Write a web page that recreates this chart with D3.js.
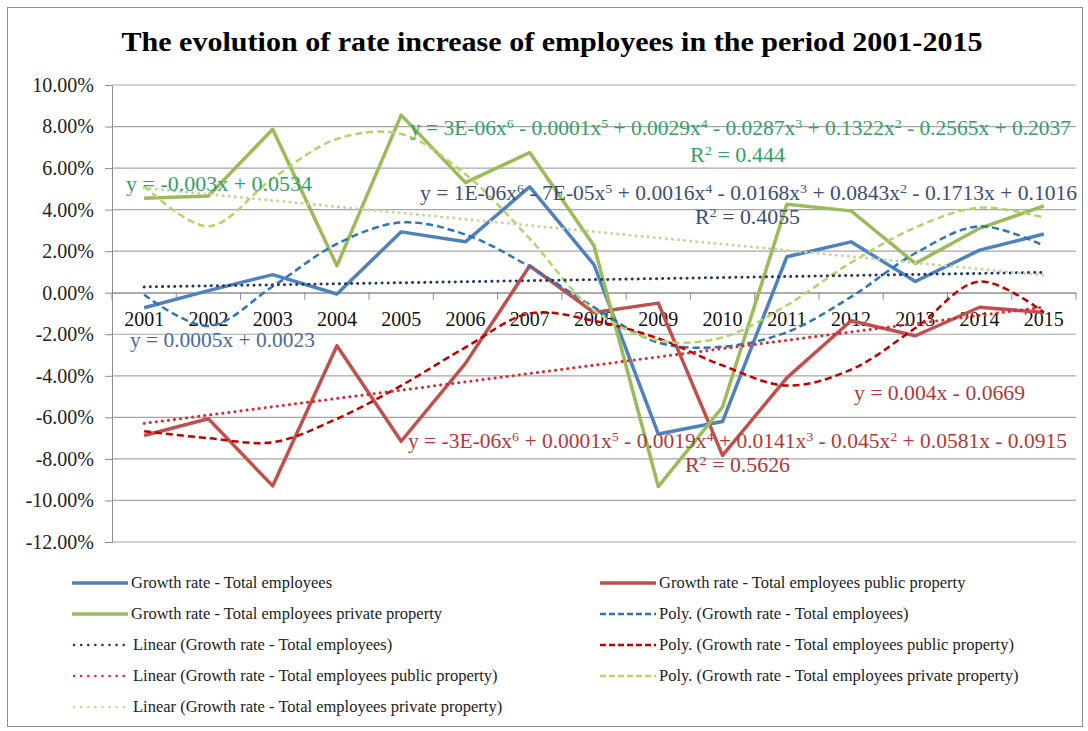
<!DOCTYPE html>
<html>
<head>
<meta charset="utf-8">
<script src="https://cdn.jsdelivr.net/npm/d3@7"></script>
<style>
  body { margin: 0; background: #fff; }
  text { font-family: "Liberation Serif", "Times New Roman", serif; }
</style>
</head>
<body>
<svg id="chart" width="1088" height="731"></svg>
<script>
// data (values in %)
const years = ["2001", "2002", "2003", "2004", "2005", "2006", "2007", "2008", "2009", "2010", "2011", "2012", "2013", "2014", "2015"];
const total = [-0.72, 0.1, 0.87, -0.06, 2.93, 2.45, 5.1, 1.35, -6.8, -6.2, 1.73, 2.45, 0.54, 2.05, 2.83];
const publicProp = [-6.87, -6.07, -9.3, -2.55, -7.15, -3.4, 1.3, -0.95, -0.5, -7.83, -4.1, -1.35, -2.07, -0.7, -0.95];
const privateProp = [4.55, 4.66, 7.87, 1.3, 8.55, 5.3, 6.75, 2.26, -9.33, -5.5, 4.26, 3.94, 1.41, 3.1, 4.18];

// polynomial trend values read at each year
const polyTotal = [-0.1, -1.6, 0.3, 2.35, 3.38, 2.8, 1.25, -0.7, -2.4, -2.6, -1.9, -0.2, 1.9, 3.2, 2.26];
const polyPublic = [-6.67, -7.0, -7.2, -6.07, -4.47, -2.63, -1.0, -1.35, -2.2, -3.5, -4.47, -3.7, -1.7, 0.54, -0.95];
const polyPrivate = [5.14, 3.2, 5.5, 7.4, 7.64, 5.7, 2.6, -0.85, -2.3, -2.15, -0.6, 1.45, 3.14, 4.1, 3.62];

// linear trend values at 2001 and 2015
const linTotal = [0.28, 0.98];
const linPublic = [-6.29, -0.69];
const linPrivate = [5.04, 0.84];

const yTicks = [-12, -10, -8, -6, -4, -2, 0, 2, 4, 6, 8, 10];

const svg = d3.select("#chart");

// outer frame
svg.append("rect")
    .attr("x", 7.5).attr("y", 7.5)
    .attr("width", 1075).attr("height", 719)
    .attr("fill", "none").attr("stroke", "#8c8c8c");

svg.append("text")
    .attr("x", 552).attr("y", 51)
    .attr("text-anchor", "middle")
    .attr("font-size", "27px")
    .attr("font-weight", "bold")
    .attr("textLength", 861)
    .attr("lengthAdjust", "spacingAndGlyphs")
    .text("The evolution of rate increase of employees in the period 2001-2015");

const xScale = d3.scaleBand().domain(years).range([112, 1076]);
const yScale = d3.scaleLinear().domain([-12, 10]).range([542, 85]);
const cx = function (i) { return xScale(years[i]) + xScale.bandwidth() / 2; };

// gridlines
svg.append("g").selectAll("line")
    .data(yTicks)
    .enter().append("line")
    .attr("x1", 112).attr("x2", 1076)
    .attr("y1", function (d) { return yScale(d); })
    .attr("y2", function (d) { return yScale(d); })
    .attr("stroke", "#a6a6a6").attr("stroke-width", 1.2);

// y axis
const yAxis = svg.append("g")
    .attr("transform", "translate(112,0)")
    .call(d3.axisLeft(yScale).tickValues(yTicks)
        .tickFormat(function (d) { return d.toFixed(2) + "%"; })
        .tickSizeInner(7).tickSizeOuter(0).tickPadding(11));
yAxis.selectAll("path, line").attr("stroke", "#8c8c8c");
yAxis.selectAll("text").attr("font-size", "20px").attr("fill", "#222")
    .attr("font-family", "Liberation Serif, serif");

// x axis at 0 with ticks between categories
const y0 = yScale(0);
const xAxis = svg.append("g")
    .attr("transform", "translate(0," + y0 + ")")
    .call(d3.axisBottom(xScale).tickSize(0).tickPadding(19));
xAxis.select("path").attr("stroke", "#8c8c8c");
xAxis.selectAll("text").attr("font-size", "20px").attr("fill", "#111")
    .attr("font-family", "Liberation Serif, serif");
svg.append("g").selectAll("line")
    .data(years.concat(["end"]))
    .enter().append("line")
    .attr("x1", function (d, i) { return i < years.length ? xScale(d) : 1076; })
    .attr("x2", function (d, i) { return i < years.length ? xScale(d) : 1076; })
    .attr("y1", y0).attr("y2", y0 + 7)
    .attr("stroke", "#8c8c8c");

const line = d3.line()
    .x(function (d, i) { return cx(i); })
    .y(function (d) { return yScale(d); });
const curve = d3.line()
    .x(function (d, i) { return cx(i); })
    .y(function (d) { return yScale(d); })
    .curve(d3.curveCatmullRom.alpha(0.5));

const series = [
    { values: total, color: "#4f81bd" },
    { values: publicProp, color: "#c0504d" },
    { values: privateProp, color: "#9bbb59" }
];
series.forEach(function (s) {
    svg.append("path")
        .attr("d", line(s.values))
        .attr("fill", "none")
        .attr("stroke", s.color)
        .attr("stroke-width", 3.5)
        .attr("stroke-linejoin", "round");
});

const polys = [
    { values: polyTotal, color: "#2e75b6" },
    { values: polyPublic, color: "#c00000" },
    { values: polyPrivate, color: "#b3d36b" }
];
polys.forEach(function (s) {
    svg.append("path")
        .attr("d", curve(s.values))
        .attr("fill", "none")
        .attr("stroke", s.color)
        .attr("stroke-width", 2.5)
        .attr("stroke-dasharray", "7,4");
});

const linears = [
    { values: linTotal, color: "#1f3864" },
    { values: linPublic, color: "#e0262e" },
    { values: linPrivate, color: "#c4d79b" }
];
linears.forEach(function (s) {
    svg.append("line")
        .attr("x1", cx(0)).attr("x2", cx(years.length - 1))
        .attr("y1", yScale(s.values[0])).attr("y2", yScale(s.values[1]))
        .attr("stroke", s.color)
        .attr("stroke-width", 3)
        .attr("stroke-linecap", "round")
        .attr("stroke-dasharray", "0.1,6");
});

// trendline equations
function eq(str, x, v, color, width, anchor) {
    const t = svg.append("text")
        .attr("x", x).attr("y", yScale(v))
        .attr("fill", color)
        .attr("font-size", "20px")
        .attr("text-anchor", anchor || "start")
        .attr("textLength", width)
        .attr("lengthAdjust", "spacingAndGlyphs");
    str.split(/(\^\d)/).forEach(function (part) {
        if (part === "") return;
        if (part[0] === "^") {
            t.append("tspan").attr("baseline-shift", "super").attr("font-size", "13px").text(part.slice(1));
        } else {
            t.append("tspan").text(part);
        }
    });
}
const green = "#33a067", blueTxt = "#3b4e78", redTxt = "#b23838";
eq("y = 3E-06x^6 - 0.0001x^5 + 0.0029x^4 - 0.0287x^3 + 0.1322x^2 - 0.2565x + 0.2037", 410, 7.6, green, 661);
eq("R^2 = 0.444", 690, 6.3, green, 95);
eq("y = -0.003x + 0.0534", 126, 4.91, green, 186);
eq("y = 1E-06x^6 - 7E-05x^5 + 0.0016x^4 - 0.0168x^3 + 0.0843x^2 - 0.1713x + 0.1016", 420, 4.48, blueTxt, 657);
eq("R^2 = 0.4055", 695, 3.32, blueTxt, 105);
eq("y = 0.0005x + 0.0023", 130, -2.6, "#4a6a9c", 185);
eq("y = 0.004x - 0.0669", 854, -5.15, redTxt, 171);
eq("y = -3E-06x^6 + 0.0001x^5 - 0.0019x^4 + 0.0141x^3 - 0.045x^2 + 0.0581x - 0.0915", 408, -7.46, redTxt, 659);
eq("R^2 = 0.5626", 685, -8.62, redTxt, 105);

// legend
const legendItems = [
    { label: "Growth rate - Total employees", color: "#4f81bd", dash: null, col: 0, row: 0 },
    { label: "Growth rate - Total employees private property", color: "#9bbb59", dash: null, col: 0, row: 1 },
    { label: "Linear (Growth rate - Total employees)", color: "#1f3864", dash: "dot", col: 0, row: 2 },
    { label: "Linear (Growth rate - Total employees public property)", color: "#e0262e", dash: "dot", col: 0, row: 3 },
    { label: "Linear (Growth rate - Total employees private property)", color: "#c4d79b", dash: "dot", col: 0, row: 4 },
    { label: "Growth rate - Total employees public property", color: "#c0504d", dash: null, col: 1, row: 0 },
    { label: "Poly. (Growth rate - Total employees)", color: "#2e75b6", dash: "dash", col: 1, row: 1 },
    { label: "Poly. (Growth rate - Total employees public property)", color: "#c00000", dash: "dash", col: 1, row: 2 },
    { label: "Poly. (Growth rate - Total employees private property)", color: "#b3d36b", dash: "dash", col: 1, row: 3 }
];
const lg = svg.append("g").selectAll("g")
    .data(legendItems)
    .enter().append("g")
    .attr("transform", function (d) {
        return "translate(" + (d.col === 0 ? 72 : 600) + "," + (583 + d.row * 31) + ")";
    });
lg.append("line")
    .attr("x1", function (d) { return d.dash === "dot" ? 2 : 0; })
    .attr("x2", function (d) { return d.dash === "dot" ? 52 : 56; })
    .attr("stroke", function (d) { return d.color; })
    .attr("stroke-width", function (d) { return d.dash === null ? 3.5 : 2.5; })
    .attr("stroke-linecap", function (d) { return d.dash === "dot" ? "round" : "butt"; })
    .attr("stroke-dasharray", function (d) {
        return d.dash === "dot" ? "0.1,7" : d.dash === "dash" ? "6,3" : null;
    });
lg.append("text")
    .attr("x", function (d) { return d.dash === "dot" ? 61 : 59; })
    .attr("dy", "0.32em")
    .attr("font-size", "16.5px")
    .attr("fill", "#222")
    .text(function (d) { return d.label; });
</script>
</body>
</html>
